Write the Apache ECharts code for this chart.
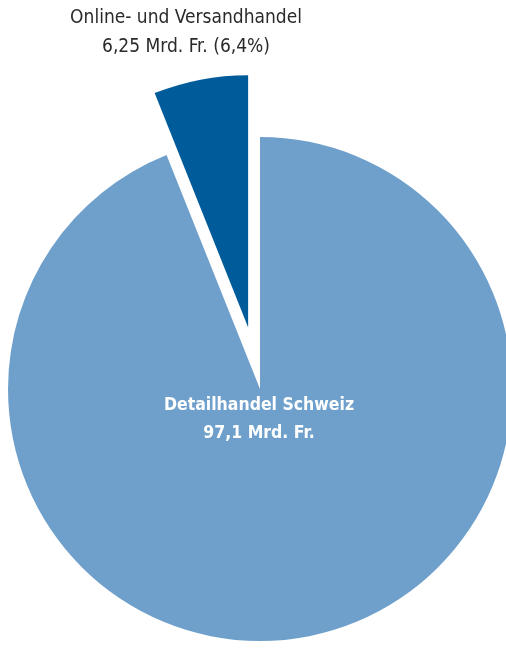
<!DOCTYPE html>
<html><head><meta charset="utf-8">
<script src="https://cdn.jsdelivr.net/npm/echarts@6/dist/echarts.min.js"></script>
<style>html,body{margin:0;padding:0;background:#fff;}#c{width:506px;height:648px;}</style>
</head><body><div id="c"></div>
<script>
const categories = ['Detailhandel Schweiz', 'Online- und Versandhandel'];
const values = [97.1, 6.25];
const shareLabels = ['', '6,4%'];
const unit = 'Mrd. Fr.';

const fmt = v => String(v).replace('.', ',');
const FONT = '"Liberation Sans Narrow", "DejaVu Sans Condensed", "Roboto Condensed", sans-serif';
const chart = echarts.init(document.getElementById('c'), null, {renderer: 'canvas'});
chart.setOption({
  animation: false,
  series: [{
    type: 'pie',
    center: [260, 389],
    radius: 252,
    startAngle: 90,
    clockwise: true,
    selectedMode: 'single',
    selectedOffset: 63,
    label: {show: false},
    labelLine: {show: false},
    emphasis: {disabled: true},
    itemStyle: {borderWidth: 0},
    data: [
      {name: categories[0], value: values[0], itemStyle: {color: '#6fa0cb'}},
      {name: categories[1], value: values[1], selected: true, itemStyle: {color: '#005b9a'}}
    ]
  }],
  graphic: [
    {type: 'text', z: 100, x: 186, y: 4, style: {
      text: categories[1] + '\n' + fmt(values[1]) + ' ' + unit + ' (' + shareLabels[1] + ')',
      font: '19px ' + FONT, fill: '#2a2a2a', align: 'center', lineHeight: 29
    }},
    {type: 'text', z: 100, x: 259, y: 391, style: {
      text: categories[0] + '\n' + fmt(values[0]) + ' ' + unit,
      font: 'bold 17.5px ' + FONT, fill: '#ffffff', align: 'center', lineHeight: 28
    }}
  ]
});
</script></body></html>
